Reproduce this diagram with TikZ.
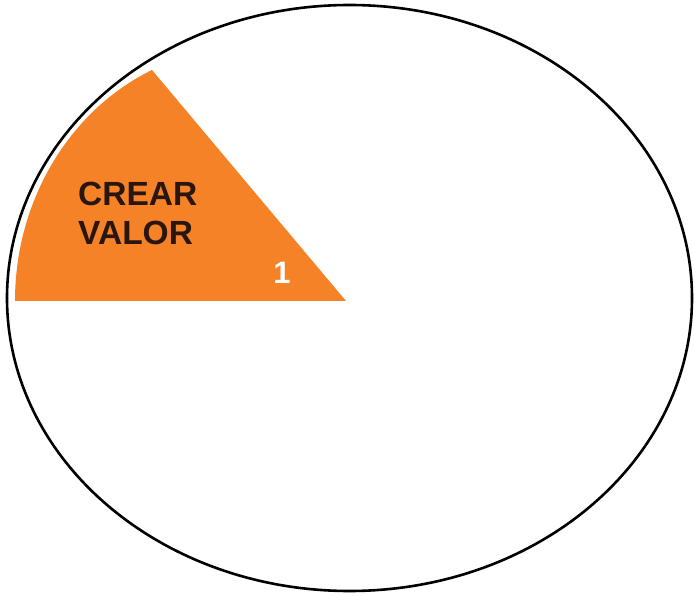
\documentclass[tikz,border=0pt]{standalone}
\usepackage{fontspec}
\setmainfont{Liberation Sans}
\definecolor{sectororange}{RGB}{245,130,38}
\definecolor{labeldark}{RGB}{40,22,15}
\tikzset{
  outline/.style={draw=black, line width=2.6pt},
  sectorfill/.style={fill=sectororange},
  biglabel/.style={font=\bfseries\fontsize{33.5}{39}\selectfont, text=labeldark, align=left, inner sep=0pt},
  numlabel/.style={font=\bfseries\fontsize{31}{31}\selectfont, text=white, inner sep=0pt}
}
\begin{document}
\begin{tikzpicture}[x=1pt,y=-1pt]
\useasboundingbox (0,0) rectangle (694,596);
\fill[white] (0,0) rectangle (694,596);
\draw[outline] (349.5,298) ellipse [x radius=342.5pt, y radius=293pt];
\coordinate (apex) at (346,301);
\coordinate (base) at (15,301);
\coordinate (tip) at (152,70);
\path[sectorfill] (apex) -- (base) .. controls (15,200) and (70,110) .. (tip) -- cycle;
\node[biglabel, anchor=west] (label) at (78,213) {CREAR\\VALOR};
\node[numlabel] (num) at (282,273) {1};
\end{tikzpicture}
\end{document}
